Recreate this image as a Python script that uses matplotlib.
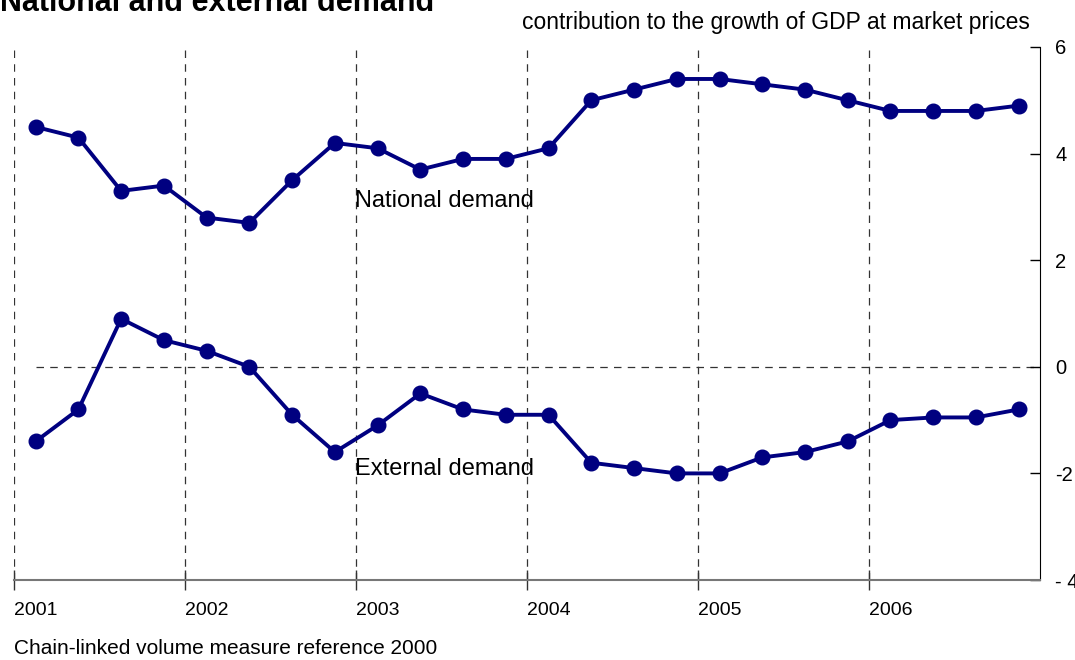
import matplotlib
matplotlib.use("Agg")
import matplotlib.pyplot as plt
import numpy as np

plt.rcParams["font.family"] = ["Liberation Sans", "DejaVu Sans"]

years = ["2001", "2002", "2003", "2004", "2005", "2006"]
national = [4.5, 4.3, 3.3, 3.4, 2.8, 2.7, 3.5, 4.2,
            4.1, 3.7, 3.9, 3.9, 4.1, 5.0, 5.2, 5.4,
            5.4, 5.3, 5.2, 5.0, 4.8, 4.8, 4.8, 4.9]
external = [-1.4, -0.8, 0.9, 0.5, 0.3, 0.0, -0.9, -1.6,
            -1.1, -0.5, -0.8, -0.9, -0.9, -1.8, -1.9, -2.0,
            -2.0, -1.7, -1.6, -1.4, -1.0, -0.95, -0.95, -0.8]

navy = "#000080"
quarters = np.arange(len(national)) + 0.5

fig = plt.figure(figsize=(10.75, 6.6), dpi=100)
ax = fig.add_axes([0.0133, 0.1212, 0.9542, 0.8076])

# year separators and zero line
for k in range(len(years)):
    ax.axvline(4 * k, color="#333333", lw=0.9, dashes=(6, 5), zorder=1)
ax.hlines(0, 0.5, 24, color="#333333", lw=0.9, linestyles=(0, (6, 5)), zorder=1)

ax.plot(quarters, national, color=navy, lw=2.8, marker="o", ms=10.5, zorder=3)
ax.plot(quarters, external, color=navy, lw=2.8, marker="o", ms=10.5, zorder=3)

ax.set_xlim(0, 24)
ax.set_ylim(-4, 6)
ax.set_yticks([-4, -2, 0, 2, 4, 6])
ax.set_yticklabels(["- 4", "-2", "0", "2", "4", "6"])
ax.yaxis.tick_right()
ax.tick_params(axis="y", direction="in", length=7, width=1, labelsize=14.5, pad=11)
ax.set_xticks([4 * k for k in range(len(years))])
ax.set_xticklabels(years, ha="left")
ax.tick_params(axis="x", direction="inout", length=15, width=1, labelsize=14,
               pad=8, color="#333333")

for s in ["top", "left"]:
    ax.spines[s].set_visible(False)
ax.spines["bottom"].set_color("#777777")
ax.spines["bottom"].set_linewidth(1.5)
ax.spines["right"].set_color("black")

ax.text(7.97, 3.11, "National demand", fontsize=17, va="center", ha="left")
ax.text(7.97, -1.92, "External demand", fontsize=17, va="center", ha="left")

fig.text(0.0, 1 - 11 / 660, "National and external demand", fontsize=22,
         fontweight="bold", ha="left", va="baseline")
fig.text(1030 / 1075, 1 - 22 / 660, "contribution to the growth of GDP at market prices",
         fontsize=16.5, ha="right", va="center")
fig.text(14 / 1075, 1 - 648 / 660, "Chain-linked volume measure reference 2000",
         fontsize=15, ha="left", va="center")

fig.savefig("out.png", dpi=100)
